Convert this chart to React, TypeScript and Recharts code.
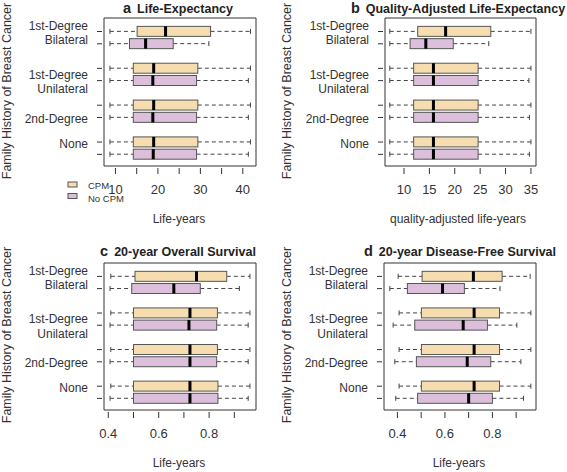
import { ComposedChart, Bar, XAxis, YAxis, ReferenceArea } from "recharts";

// box positions (top to bottom) and which arm each one is
const positions = [1, 2, 4, 5, 7, 8, 10, 11];
const arms = ["CPM", "No CPM", "CPM", "No CPM", "CPM", "No CPM", "CPM", "No CPM"];
const rowLabels: Record<number, string[]> = {
  1: ["1st-Degree", "Bilateral"],
  5: ["1st-Degree", "Unilateral"],
  8: ["2nd-Degree"],
  10: ["None"],
};

// a: life-expectancy
const leLow = [8.7, 8.7, 8.7, 8.7, 8.7, 8.7, 8.7, 8.7];
const leQ1 = [15.1, 13.3, 14.2, 14.2, 14.2, 14.2, 14.2, 14.2];
const leMed = [21.8, 17.1, 19.0, 18.8, 19.0, 18.8, 19.0, 18.9];
const leQ3 = [32.4, 23.6, 29.4, 29.1, 29.4, 29.1, 29.4, 29.1];
const leHigh = [41.8, 32.0, 41.8, 41.3, 41.8, 41.3, 41.8, 41.3];

// b: quality-adjusted life-expectancy
const qaLow = [7.2, 7.2, 7.2, 7.2, 7.2, 7.2, 7.2, 7.2];
const qaQ1 = [12.7, 11.2, 11.9, 11.9, 11.9, 11.9, 11.9, 11.9];
const qaMed = [18.2, 14.3, 15.8, 15.8, 15.8, 15.8, 15.8, 15.8];
const qaQ3 = [27.1, 19.7, 24.6, 24.6, 24.6, 24.6, 24.6, 24.6];
const qaHigh = [35.0, 26.7, 35.0, 34.6, 35.0, 34.7, 35.0, 34.7];

// c: 20-year overall survival
const osLow = [0.41, 0.407, 0.41, 0.407, 0.41, 0.407, 0.41, 0.407];
const osQ1 = [0.506, 0.493, 0.5, 0.5, 0.5, 0.5, 0.5, 0.5];
const osMed = [0.75, 0.66, 0.724, 0.72, 0.724, 0.724, 0.724, 0.724];
const osQ3 = [0.87, 0.765, 0.833, 0.83, 0.833, 0.83, 0.835, 0.835];
const osHigh = [0.962, 0.92, 0.962, 0.955, 0.962, 0.955, 0.962, 0.955];

// d: 20-year disease-free survival
const dfLow = [0.403, 0.368, 0.407, 0.382, 0.407, 0.389, 0.407, 0.393];
const dfQ1 = [0.504, 0.442, 0.501, 0.473, 0.501, 0.48, 0.501, 0.485];
const dfMed = [0.72, 0.59, 0.723, 0.677, 0.723, 0.694, 0.723, 0.7];
const dfQ3 = [0.841, 0.682, 0.83, 0.779, 0.83, 0.793, 0.83, 0.8];
const dfHigh = [0.959, 0.832, 0.962, 0.903, 0.962, 0.92, 0.962, 0.931];

const yearTicks = [10, 15, 20, 25, 30, 35, 40];
const qalyTicks = [10, 15, 20, 25, 30, 35];
const survTicks = [0.4, 0.5, 0.6, 0.7, 0.8, 0.9];

const FONT = "'Liberation Sans', Arial, sans-serif";
const INK = "#333";
const FILLS: Record<string, string> = { CPM: "#f6ddb0", "No CPM": "#dbbfdb" };
const Y_DOMAIN = [-0.1, 11.95];

function rows(low: number[], q1: number[], med: number[], q3: number[], high: number[]) {
  return positions.map((pos, i) => ({
    pos,
    arm: arms[i],
    low: low[i],
    q1: q1[i],
    med: med[i],
    q3: q3[i],
    high: high[i],
  }));
}

const BoxShape = (props: any) => {
  const { x, y, width, height, payload } = props;
  if (payload == null) return null;
  const k = width / (payload.q3 - payload.q1);
  const px = (v: number) => x + (v - payload.q1) * k;
  const cy = y + height / 2;
  const lo = px(payload.low);
  const hi = px(payload.high);
  const m = px(payload.med);
  return (
    <g>
      <line x1={lo} x2={x} y1={cy} y2={cy} stroke="#444" strokeDasharray="4 3" />
      <line x1={x + width} x2={hi} y1={cy} y2={cy} stroke="#444" strokeDasharray="4 3" />
      <line x1={lo} x2={lo} y1={cy - 2.5} y2={cy + 2.5} stroke="#444" />
      <line x1={hi} x2={hi} y1={cy - 2.5} y2={cy + 2.5} stroke="#444" />
      <rect x={x} y={y} width={width} height={height} fill={FILLS[payload.arm]} stroke="#555" />
      <line x1={m} x2={m} y1={y} y2={y + height} stroke="#000" strokeWidth={3} />
    </g>
  );
};

const YTick = (props: any) => {
  const { x, y, payload } = props;
  const lines = rowLabels[payload.value] || [];
  return (
    <g>
      <line x1={x - 7} x2={x - 2} y1={y} y2={y} stroke={INK} />
      {lines.map((t, i) => (
        <text
          key={i}
          x={x - 16}
          y={y + 1.5 + (i - (lines.length - 1) / 2) * 14.5}
          textAnchor="end"
          dominantBaseline="central"
          fontSize={12}
          fontFamily={FONT}
          fill={INK}
        >
          {t}
        </text>
      ))}
    </g>
  );
};

const makeXTick = (shown: number[]) => (props: any) => {
  const { x, y, payload } = props;
  const v = payload.value;
  const show = shown.some((s) => Math.abs(s - v) < 1e-6);
  return (
    <g>
      <line x1={x} x2={x} y1={y + 2} y2={y + 8} stroke={INK} />
      {show && (
        <text
          x={x}
          y={y + 23}
          textAnchor="middle"
          dominantBaseline="central"
          fontSize={13}
          fontFamily={FONT}
          fill={INK}
        >
          {v}
        </text>
      )}
    </g>
  );
};

interface PanelProps {
  left: number;
  top: number;
  width: number;
  height: number;
  box: [number, number, number, number];
  data: ReturnType<typeof rows>;
  domain: [number, number];
  ticks: number[];
  shown: number[];
}

function Panel({ left, top, width, height, box, data, domain, ticks, shown }: PanelProps) {
  const [x0, y0, x1, y1] = box;
  const axisH = 30;
  return (
    <div style={{ position: "absolute", left, top, width, height }}>
      <ComposedChart
        width={width}
        height={height}
        data={data}
        layout="vertical"
        margin={{ top: y0 - top, right: left + width - x1, left: 0, bottom: top + height - y1 - axisH }}
      >
        <XAxis
          type="number"
          domain={domain}
          allowDataOverflow
          ticks={ticks}
          interval={0}
          axisLine={false}
          tickLine={false}
          tickSize={0}
          tickMargin={0}
          height={axisH}
          tick={makeXTick(shown)}
        />
        <YAxis
          type="number"
          dataKey="pos"
          domain={Y_DOMAIN}
          allowDataOverflow
          ticks={positions}
          interval={0}
          axisLine={false}
          tickLine={false}
          tickSize={0}
          tickMargin={0}
          width={x0 - left}
          tick={<YTick />}
        />
        <ReferenceArea
          x1={domain[0]}
          x2={domain[1]}
          y1={Y_DOMAIN[0]}
          y2={Y_DOMAIN[1]}
          fill="none"
          stroke={INK}
          strokeOpacity={1}
          fillOpacity={0}
          ifOverflow="visible"
        />
        <Bar
          dataKey={(d: any) => [d.q1, d.q3]}
          barSize={10}
          shape={<BoxShape />}
          isAnimationActive={false}
        />
      </ComposedChart>
    </div>
  );
}

const yTitle = "Family History of Breast Cancer";

export default function App() {
  return (
    <div
      style={{
        position: "absolute",
        left: 0,
        top: 0,
        width: 567,
        height: 472,
        background: "#fff",
        fontFamily: FONT,
        overflow: "hidden",
      }}
    >
      <Panel
        left={0}
        top={0}
        width={283}
        height={236}
        box={[104, 18, 256, 166]}
        data={rows(leLow, leQ1, leMed, leQ3, leHigh)}
        domain={[7.3, 43.1]}
        ticks={yearTicks}
        shown={[10, 20, 30, 40]}
      />
      <Panel
        left={280}
        top={0}
        width={287}
        height={236}
        box={[385, 18, 536, 166]}
        data={rows(qaLow, qaQ1, qaMed, qaQ3, qaHigh)}
        domain={[6.26, 36.0]}
        ticks={qalyTicks}
        shown={qalyTicks}
      />
      <Panel
        left={0}
        top={236}
        width={283}
        height={236}
        box={[104, 263, 256, 410]}
        data={rows(osLow, osQ1, osMed, osQ3, osHigh)}
        domain={[0.383, 0.986]}
        ticks={survTicks}
        shown={[0.4, 0.6, 0.8]}
      />
      <Panel
        left={280}
        top={236}
        width={287}
        height={236}
        box={[384, 263, 536, 410]}
        data={rows(dfLow, dfQ1, dfMed, dfQ3, dfHigh)}
        domain={[0.3435, 0.9836]}
        ticks={survTicks}
        shown={[0.4, 0.6, 0.8]}
      />
      <svg
        width={567}
        height={472}
        style={{ position: "absolute", left: 0, top: 0, pointerEvents: "none" }}
        fontFamily={FONT}
      >
        {/* panel titles */}
        <text x={178} y={13} textAnchor="middle" fontWeight="bold" fontSize={12.5} fill="#222">
          <tspan fontSize={14.5}>a</tspan>
          <tspan dx={6}>Life-Expectancy</tspan>
        </text>
        <text x={458} y={13} textAnchor="middle" fontWeight="bold" fontSize={12.5} fill="#222">
          <tspan fontSize={14.5}>b</tspan>
          <tspan dx={6}>Quality-Adjusted Life-Expectancy</tspan>
        </text>
        <text x={178} y={256} textAnchor="middle" fontWeight="bold" fontSize={12.5} fill="#222">
          <tspan fontSize={14.5}>c</tspan>
          <tspan dx={6}>20-year Overall Survival</tspan>
        </text>
        <text x={460} y={256} textAnchor="middle" fontWeight="bold" fontSize={12.5} fill="#222">
          <tspan fontSize={14.5}>d</tspan>
          <tspan dx={6}>20-year Disease-Free Survival</tspan>
        </text>

        {/* y axis titles */}
        {[
          [7, 91],
          [286.5, 91],
          [7, 335],
          [286.5, 335],
        ].map(([x, y], i) => (
          <text
            key={i}
            x={x}
            y={y}
            transform={`rotate(-90 ${x} ${y})`}
            textAnchor="middle"
            dominantBaseline="central"
            fontSize={12.5}
            fill={INK}
          >
            {yTitle}
          </text>
        ))}

        {/* x axis titles */}
        <text x={179} y={219} textAnchor="middle" dominantBaseline="central" fontSize={12} fill={INK}>
          Life-years
        </text>
        <text x={458} y={219} textAnchor="middle" dominantBaseline="central" fontSize={12} fill={INK}>
          quality-adjusted life-years
        </text>
        <text x={179} y={463} textAnchor="middle" dominantBaseline="central" fontSize={12} fill={INK}>
          Life-years
        </text>
        <text x={459} y={463} textAnchor="middle" dominantBaseline="central" fontSize={12} fill={INK}>
          Life-years
        </text>

        {/* legend */}
        <rect x={68} y={182} width={9} height={5} fill={FILLS["CPM"]} stroke="#555" />
        <rect x={68} y={193.5} width={9} height={5} fill={FILLS["No CPM"]} stroke="#555" />
        <text x={88} y={185} dominantBaseline="central" fontSize={9.5} fill={INK}>
          CPM
        </text>
        <text x={88} y={198} dominantBaseline="central" fontSize={9.5} fill={INK}>
          No CPM
        </text>
      </svg>
    </div>
  );
}
